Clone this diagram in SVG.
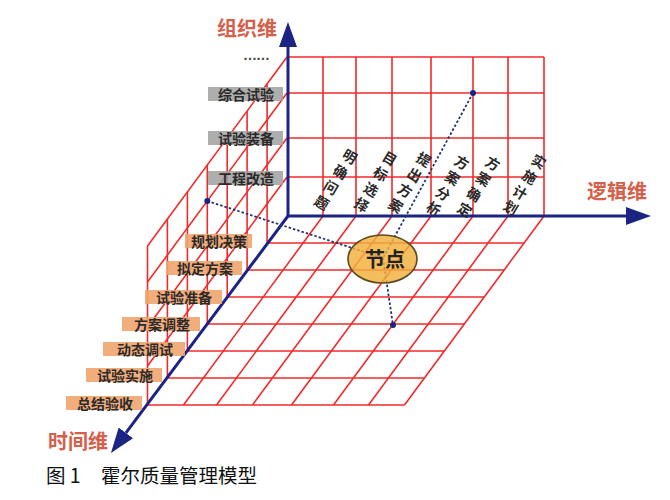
<svg xmlns="http://www.w3.org/2000/svg" width="670" height="500" viewBox="0 0 670 500">
<defs>
<style>
.grid{stroke:#f02a2a;stroke-width:1.6;fill:none}
.axis{stroke:#1b2483;stroke-width:3;fill:none}
.dash{stroke:#26346e;stroke-width:1.8;stroke-dasharray:2.5 2;fill:none}
.dot{fill:#1b2483}
.lbl{font-family:"Noto Sans CJK SC","Noto Sans",sans-serif;font-size:14px;font-weight:bold;fill:#2a2a2a;text-anchor:middle;dominant-baseline:central}
.ax{font-family:"Noto Sans CJK SC","Noto Sans",sans-serif;font-size:20px;font-weight:bold;fill:#d4604c;text-anchor:middle;dominant-baseline:central}
.gbox{fill:#a0a0a0;opacity:0.85}
.obox{fill:#f0a46e;opacity:0.9}
.cap{font-family:"Noto Sans CJK SC","Noto Sans",sans-serif;font-size:19.5px;fill:#111}
</style>
<marker id="arr" viewBox="0 0 25 18" refX="0" refY="9" markerWidth="25" markerHeight="18" markerUnits="userSpaceOnUse" orient="auto">
<path d="M0,0 L25,9 L0,18 z" fill="#1b2483"/>
</marker>
</defs>
<rect width="670" height="500" fill="#ffffff"/>

<g id="grid" class="grid">
<line x1="323" y1="57" x2="323" y2="216"/>
<line x1="356" y1="57" x2="356" y2="216"/>
<line x1="392" y1="57" x2="392" y2="216"/>
<line x1="431" y1="57" x2="431" y2="216"/>
<line x1="473" y1="57" x2="473" y2="216"/>
<line x1="508" y1="57" x2="508" y2="216"/>
<line x1="544" y1="57" x2="544" y2="216"/>
<line x1="287" y1="57" x2="544" y2="57"/>
<line x1="287" y1="93" x2="544" y2="93"/>
<line x1="287" y1="138" x2="544" y2="138"/>
<line x1="287" y1="177" x2="544" y2="177"/>
<line x1="323" y1="216" x2="183.5" y2="405"/>
<line x1="356" y1="216" x2="216.5" y2="405"/>
<line x1="392" y1="216" x2="252.5" y2="405"/>
<line x1="431" y1="216" x2="291.5" y2="405"/>
<line x1="473" y1="216" x2="333.5" y2="405"/>
<line x1="508" y1="216" x2="368.5" y2="405"/>
<line x1="544" y1="216" x2="404.5" y2="405"/>
<line x1="267.1" y1="243" x2="524.1" y2="243"/>
<line x1="247.1" y1="270" x2="504.1" y2="270"/>
<line x1="227.2" y1="297" x2="484.2" y2="297"/>
<line x1="207.3" y1="324" x2="464.3" y2="324"/>
<line x1="187.4" y1="351" x2="444.4" y2="351"/>
<line x1="167.4" y1="378" x2="424.4" y2="378"/>
<line x1="147.5" y1="405" x2="404.5" y2="405"/>
<line x1="267.1" y1="243" x2="267.1" y2="84"/>
<line x1="247.1" y1="270" x2="247.1" y2="111"/>
<line x1="227.2" y1="297" x2="227.2" y2="138"/>
<line x1="207.3" y1="324" x2="207.3" y2="165"/>
<line x1="187.4" y1="351" x2="187.4" y2="192"/>
<line x1="167.4" y1="378" x2="167.4" y2="219"/>
<line x1="147.5" y1="405" x2="147.5" y2="246"/>
<line x1="287" y1="57" x2="147.5" y2="246"/>
<line x1="287" y1="93" x2="147.5" y2="282"/>
<line x1="287" y1="138" x2="147.5" y2="327"/>
<line x1="287" y1="177" x2="147.5" y2="366"/>
</g>

<g id="axes">
<line class="axis" x1="288" y1="216" x2="288" y2="47" marker-end="url(#arr)"/>
<line class="axis" x1="287" y1="216" x2="626" y2="216" marker-end="url(#arr)"/>
<line class="axis" x1="288" y1="216" x2="125.9" y2="432.9" marker-end="url(#arr)"/>
</g>

<g id="connectors">
<line class="dash" x1="473" y1="93" x2="383" y2="258"/>
<line class="dash" x1="207.3" y1="201" x2="383" y2="258"/>
<line class="dash" x1="383" y1="258" x2="393" y2="325"/>
<circle class="dot" cx="473" cy="93" r="3"/>
<circle class="dot" cx="207.3" cy="201" r="3"/>
<circle class="dot" cx="393" cy="325" r="3"/>
</g>

<g id="node-jiedian">
<ellipse cx="382.5" cy="259" rx="34.5" ry="24" fill="#f2ae3a" fill-opacity="0.82" stroke="#5a4a20" stroke-width="1.6"/>
<text x="385" y="258" class="lbl" style="font-size:20px;fill:#222">节点</text>
</g>

<g id="axis-labels">
<text x="247" y="27" class="ax">组织维</text>
<text x="617" y="190" class="ax">逻辑维</text>
<text x="78" y="440" class="ax">时间维</text>
</g>

<g id="org-labels">
<text x="256" y="55" style="font-family:'Liberation Sans',sans-serif;font-size:14px;font-weight:bold;fill:#444;text-anchor:middle;dominant-baseline:central;letter-spacing:-1px">……</text>
<rect class="gbox" x="208" y="87" width="75" height="14"/>
<text class="lbl" x="246" y="94">综合试验</text>
<rect class="gbox" x="208" y="131" width="75" height="14"/>
<text class="lbl" x="246" y="138">试验装备</text>
<rect class="gbox" x="208" y="171" width="75" height="14"/>
<text class="lbl" x="246" y="178">工程改造</text>
</g>

<g id="time-labels">
<rect class="obox" x="185" y="234" width="67" height="14"/>
<text class="lbl" x="219" y="241">规划决策</text>
<rect class="obox" x="166" y="261" width="76" height="14"/>
<text class="lbl" x="205" y="268">拟定方案</text>
<rect class="obox" x="145" y="290" width="77" height="14"/>
<text class="lbl" x="184" y="297">试验准备</text>
<rect class="obox" x="122" y="317" width="78" height="14"/>
<text class="lbl" x="162" y="324">方案调整</text>
<rect class="obox" x="103" y="342" width="82" height="14"/>
<text class="lbl" x="145" y="349">动态调试</text>
<rect class="obox" x="86" y="368" width="76" height="14"/>
<text class="lbl" x="125" y="375">试验实施</text>
<rect class="obox" x="66" y="396" width="76" height="14"/>
<text class="lbl" x="105" y="403">总结验收</text>
</g>

<g id="logic-labels">
<g transform="translate(350,156) rotate(31)">
<text class="lbl" x="0" y="0">明</text><text class="lbl" x="0" y="18">确</text><text class="lbl" x="0" y="36">问</text><text class="lbl" x="0" y="54">题</text>
</g>
<g transform="translate(390,158) rotate(31)">
<text class="lbl" x="0" y="0">目</text><text class="lbl" x="0" y="18">标</text><text class="lbl" x="0" y="36">选</text><text class="lbl" x="0" y="54">择</text>
</g>
<g transform="translate(424,159) rotate(31)">
<text class="lbl" x="0" y="0">提</text><text class="lbl" x="0" y="18">出</text><text class="lbl" x="0" y="36">方</text><text class="lbl" x="0" y="54">案</text>
</g>
<g transform="translate(462,162) rotate(31)">
<text class="lbl" x="0" y="0">方</text><text class="lbl" x="0" y="18">案</text><text class="lbl" x="0" y="36">分</text><text class="lbl" x="0" y="54">析</text>
</g>
<g transform="translate(493,163) rotate(31)">
<text class="lbl" x="0" y="0">方</text><text class="lbl" x="0" y="18">案</text><text class="lbl" x="0" y="36">确</text><text class="lbl" x="0" y="54">定</text>
</g>
<g transform="translate(539,161) rotate(31)">
<text class="lbl" x="0" y="0">实</text><text class="lbl" x="0" y="18">施</text><text class="lbl" x="0" y="36">计</text><text class="lbl" x="0" y="54">划</text>
</g>
</g>

<g id="caption">
<text class="cap" x="46" y="483">图 1</text>
<text class="cap" x="101" y="483">霍尔质量管理模型</text>
</g>
</svg>
